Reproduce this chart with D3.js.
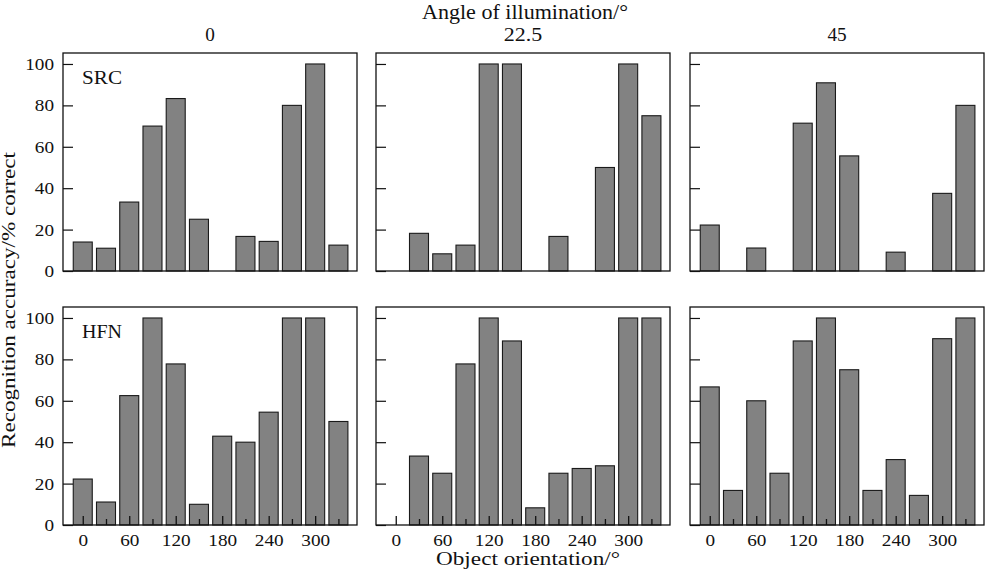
<!DOCTYPE html>
<html>
<head>
<meta charset="utf-8">
<script src="https://cdn.jsdelivr.net/npm/d3@7"></script>
<style>
  body { margin: 0; background: #fff; }
  text { font-family: "Liberation Serif", "Times New Roman", serif; fill: #111; }
</style>
</head>
<body>
<svg id="chart" width="994" height="578"></svg>
<script>
// orientations (degrees) shared by every panel
const orientations = [0, 30, 60, 90, 120, 150, 180, 210, 240, 270, 300, 330];
const illumination = ["0", "22.5", "45"];
const methods = ["SRC", "HFN"];
const yTicks = [0, 20, 40, 60, 80, 100];
const xTickLabels = [0, 60, 120, 180, 240, 300];

// recognition accuracy (% correct), one array per method / illumination angle
const src0  = [14, 11, 33.3, 70, 83.3, 25, 0, 16.7, 14.3, 80, 100, 12.5];
const src22 = [0, 18.2, 8.3, 12.5, 100, 100, 0, 16.7, 0, 50, 100, 75];
const src45 = [22.2, 0, 11.1, 0, 71.4, 90.9, 55.6, 0, 9.1, 0, 37.5, 80];
const hfn0  = [22.2, 11.1, 62.5, 100, 77.8, 10, 42.9, 40, 54.5, 100, 100, 50];
const hfn22 = [0, 33.3, 25, 77.8, 100, 88.9, 8.3, 25, 27.3, 28.6, 100, 100];
const hfn45 = [66.7, 16.7, 60, 25, 88.9, 100, 75, 16.7, 31.6, 14.3, 90, 100];

const rows = [[src0, src22, src45], [hfn0, hfn22, hfn45]];

const svg = d3.select("#chart");

const panelW = 294, panelH = 218;
const colX = [63, 376, 690];
const rowY = [53, 307];

const x = d3.scaleLinear().domain([-25.5, 354]).range([0, panelW]);
const y = d3.scaleLinear().domain([0, 105.3]).range([panelH, 0]);
const barW = 19;

// the original type is a little wider than Times, so stretch digits a bit
const styleTicks = sel => sel
  .attr("font-family", "Liberation Serif")
  .attr("font-size", 17)
  .attr("fill", "#111")
  .attr("textLength", d => String(d).length * 9.6)
  .attr("lengthAdjust", "spacingAndGlyphs");

rows.forEach((row, r) => {
  row.forEach((vals, c) => {
    const g = svg.append("g").attr("transform", `translate(${colX[c]},${rowY[r]})`);

    // bars
    g.selectAll("rect.bar")
      .data(vals.map((v, i) => ({o: orientations[i], v})))
      .join("rect")
      .attr("class", "bar")
      .attr("x", d => x(d.o) - barW / 2)
      .attr("y", d => y(d.v))
      .attr("width", barW)
      .attr("height", d => y(0) - y(d.v))
      .attr("fill", "#828282")
      .attr("stroke", d => d.v === 0 ? "#aaa" : "#1a1a1a")
      .attr("stroke-width", 1.1);

    // y axis ticks (inward)
    const ya = g.append("g")
      .call(d3.axisRight(y).tickValues(yTicks).tickSize(10).tickFormat(""));
    ya.select(".domain").remove();
    ya.selectAll("line").attr("stroke", "#111").attr("stroke-width", 1.2);

    if (c === 0) {
      const yl = g.append("g")
        .call(d3.axisLeft(y).tickValues(yTicks).tickSize(0).tickPadding(9));
      yl.select(".domain").remove();
      yl.selectAll("text").call(styleTicks).attr("dy", 5.5);
    }

    // x ticks only on the bottom row
    if (r === 1) {
      const xa = g.append("g")
        .attr("transform", `translate(0,${panelH})`)
        .call(d3.axisTop(x).tickValues(orientations)
          .tickSize(0).tickFormat(""));
      xa.select(".domain").remove();
      xa.selectAll(".tick line")
        .attr("y2", d => d % 60 === 0 ? -9 : -6)
        .attr("stroke", "#111").attr("stroke-width", 1.3);

      const xl = g.append("g")
        .attr("transform", `translate(0,${panelH})`)
        .call(d3.axisBottom(x).tickValues(xTickLabels).tickSize(0));
      xl.select(".domain").remove();
      xl.selectAll("text").call(styleTicks).attr("y", 21).attr("dy", null);
    }

    // frame
    g.append("rect")
      .attr("width", panelW).attr("height", panelH)
      .attr("fill", "none").attr("stroke", "#111").attr("stroke-width", 1.3);

    if (c === 0) {
      g.append("text")
        .attr("x", 19).attr("y", 31)
        .attr("font-size", 19)
        .attr("textLength", 40).attr("lengthAdjust", "spacingAndGlyphs")
        .text(methods[r]);
    }

    if (r === 0) {
      svg.append("text")
        .attr("x", colX[c] + panelW / 2).attr("y", 41)
        .attr("text-anchor", "middle")
        .attr("font-size", 19)
        .attr("textLength", illumination[c].length * 9.6)
        .attr("lengthAdjust", "spacingAndGlyphs")
        .text(illumination[c]);
    }
  });
});

// shared titles
svg.append("text")
  .attr("x", 525).attr("y", 19)
  .attr("text-anchor", "middle").attr("font-size", 20)
  .attr("textLength", 206).attr("lengthAdjust", "spacingAndGlyphs")
  .text("Angle of illumination/°");

svg.append("text")
  .attr("x", 528).attr("y", 565)
  .attr("text-anchor", "middle").attr("font-size", 18)
  .attr("textLength", 184).attr("lengthAdjust", "spacingAndGlyphs")
  .text("Object orientation/°");

svg.append("text")
  .attr("transform", "translate(15,300) rotate(-90)")
  .attr("text-anchor", "middle").attr("font-size", 18)
  .attr("textLength", 296).attr("lengthAdjust", "spacingAndGlyphs")
  .text("Recognition accuracy/% correct");
</script>
</body>
</html>
